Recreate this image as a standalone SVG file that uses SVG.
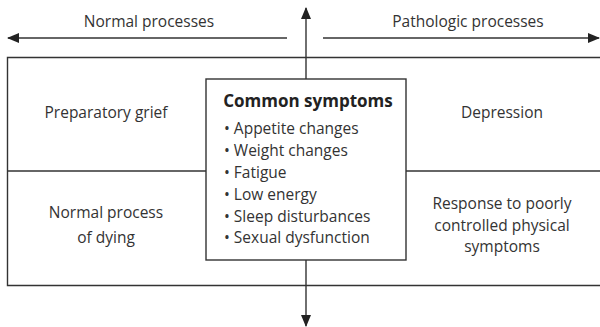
<svg xmlns="http://www.w3.org/2000/svg" width="600" height="327" viewBox="0 0 600 327">
<defs>
<marker id="ah" viewBox="0 0 12 10" refX="11" refY="5" markerWidth="12" markerHeight="10" markerUnits="userSpaceOnUse" orient="auto">
<path d="M0,0 L12,5 L0,10 Z" fill="#222"/>
</marker>
</defs>
<style>
.ln{stroke:#333;stroke-width:1.4;fill:none}
.t{font-family:"Open Sans","Liberation Sans",sans-serif;font-size:15.5px;fill:#333;text-anchor:middle}
.b{font-family:"Open Sans","Liberation Sans",sans-serif;font-size:15.5px;fill:#333}
.h{font-family:"Open Sans","Liberation Sans",sans-serif;font-size:17px;font-weight:bold;fill:#222;text-anchor:middle}
</style>
<rect width="600" height="327" fill="#fff"/>
<g id="connectors">
<line class="ln" x1="287" y1="38" x2="8" y2="38" marker-end="url(#ah)"/>
<line class="ln" x1="323" y1="38" x2="599" y2="38" marker-end="url(#ah)"/>
<line class="ln" x1="306" y1="79" x2="306" y2="8" marker-end="url(#ah)"/>
<line class="ln" x1="306" y1="260" x2="306" y2="326" marker-end="url(#ah)"/>
<text class="t" x="149" y="27">Normal processes</text>
<text class="t" x="468" y="27">Pathologic processes</text>
</g>
<g id="frame">
<path class="ln" d="M602,57.5 H7.5 V285.5 H602"/>
<line class="ln" x1="7.5" y1="171" x2="206" y2="171"/>
<line class="ln" x1="406" y1="171" x2="602" y2="171"/>
</g>
<g id="preparatory-grief"><text class="t" x="106" y="118">Preparatory grief</text></g>
<g id="normal-dying"><text class="t" x="106" y="218">Normal process</text><text class="t" x="106" y="243">of dying</text></g>
<g id="depression"><text class="t" x="502" y="118">Depression</text></g>
<g id="response"><text class="t" x="502" y="209">Response to poorly</text><text class="t" x="502" y="231">controlled physical</text><text class="t" x="502" y="252">symptoms</text></g>
<g id="common-symptoms">
<rect class="ln" x="206" y="79" width="200" height="181" fill="#fff"/>
<text class="h" x="308" y="107">Common symptoms</text>
<text class="b" x="224" y="134">• Appetite changes</text>
<text class="b" x="224" y="156">• Weight changes</text>
<text class="b" x="224" y="178">• Fatigue</text>
<text class="b" x="224" y="200">• Low energy</text>
<text class="b" x="224" y="222">• Sleep disturbances</text>
<text class="b" x="224" y="243">• Sexual dysfunction</text>
</g>
</svg>
